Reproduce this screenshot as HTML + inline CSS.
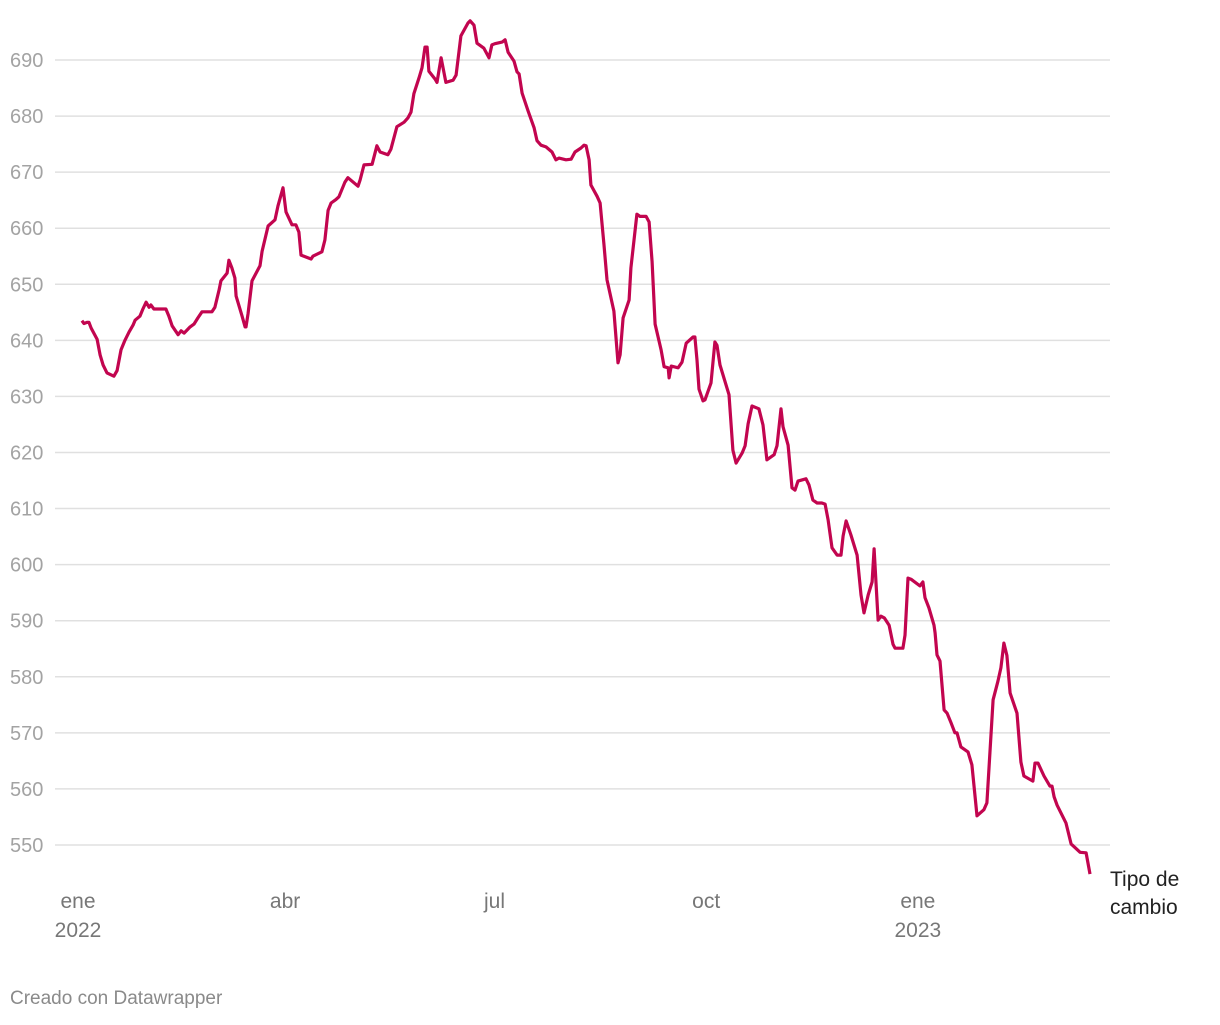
<!DOCTYPE html>
<html><head><meta charset="utf-8"><style>
body{margin:0;background:#fff;font-family:"Liberation Sans",sans-serif;}
svg text{font-family:"Liberation Sans",sans-serif;}
</style></head><body>
<svg width="1220" height="1020">
<g id="grid"></g>
<g id="yt"></g>
<g id="xt"></g>
<path id="line" fill="none" stroke="#c2054f" stroke-width="3.2" stroke-linejoin="round"/>
<text x="1110" y="886" font-size="21" fill="#222">Tipo de</text>
<text x="1110" y="914" font-size="21" fill="#222">cambio</text>
<text x="10" y="1004" font-size="19" fill="#8a8a8a">Creado con Datawrapper</text>
</svg>
<script>
const yTicks=[550,560,570,580,590,600,610,620,630,640,650,660,670,680,690];
const xTickDays=[0,90,181,273,365];
const xTickLabels=["ene","abr","jul","oct","ene"];
const xTickYears=["2022","","","","2023"];
const days=[1.7,2.6,3.9,4.8,5.7,8.3,9.6,10.9,12.6,15.6,17,18.7,20.4,22.2,23.9,24.8,26.9,28.2,29.6,30.9,31.7,33,38.2,39.5,40.9,43.5,44.8,46.1,48.7,50.4,52.1,53.9,58.2,59.5,61.3,62.1,64.8,65.6,66.9,68.2,68.7,71.3,72.6,73,73.9,75.6,77.4,79.1,80,82.6,85.6,86.9,89.1,90.4,93,94.7,96,96.9,101.3,102.1,106,107.3,108.7,110,112.1,113.4,116,117.3,121.7,122.6,124.3,127.8,129.9,131.3,134.7,136,138.6,141.7,143.4,144.7,146,148.2,149.5,150.8,151.7,152.5,155.2,156,157.8,159.9,163,164.3,166.4,169.5,170.4,172.1,173.4,176.4,178.6,179.9,181.2,184.3,185.6,186.9,189.5,190.8,191.7,193,195.6,198.2,199.5,201.2,203.4,206,207.7,209,212.1,214.3,216,218.6,219.9,220.8,222.1,222.9,225.6,226.9,228.6,229.9,232.9,234.7,235.6,236.9,239.5,240.3,242.9,244.3,246.9,248.2,249.5,250.8,253.4,254.7,256.5,256.9,257.8,260.8,262.5,264.3,267.3,268.1,269,269.9,271.6,272.5,275.1,276.8,277.7,279,282.9,284.6,286,288.6,289.9,291.2,292.9,295.9,297.7,299.4,302.5,303.8,305.5,306.4,308.6,310.3,311.6,312.9,316.4,317.7,319.4,321.2,323.3,324.7,326,327.7,329.9,331.6,332.5,333.8,335.9,338.6,340.3,341.6,343.4,345.1,346,347.7,349,350.4,352.5,354.2,355.1,358.5,359.4,360.7,362,365.9,367.2,368.1,369.8,372,372.5,373.3,374.6,376.4,377.7,379.4,381.1,382,383.7,386.8,388.5,390.7,393.7,395,397.7,399.8,401.1,402.4,403.7,405.1,408.1,409.8,411.1,415,415.9,417.2,419.8,422.4,423.3,424.2,425.5,429.4,431.6,435.5,438.1,439.8];
const values=[643.5,643,643.2,643.2,642.2,640.2,637.4,635.6,634.2,633.6,634.6,638.3,640,641.5,642.7,643.6,644.3,645.6,646.8,645.9,646.3,645.6,645.6,644.3,642.6,641,641.7,641.3,642.4,642.9,644,645.1,645.1,645.9,649,650.6,652,654.3,652.9,651.1,647.9,644.3,642.4,642.4,644.7,650.6,652,653.3,655.9,660.4,661.5,664,667.2,662.9,660.6,660.6,659.3,655.2,654.5,655,655.8,657.9,663.2,664.5,665.1,665.6,668.2,669,667.5,668.6,671.3,671.4,674.7,673.6,673.1,674.1,678.1,678.9,679.7,680.7,684,686.8,688.6,692.3,692.3,688,686.6,686,690.4,686,686.4,687.3,694.3,696.6,697,696.2,693,692.1,690.4,692.7,692.9,693.2,693.6,691.4,689.8,687.9,687.5,684.1,680.9,677.9,675.6,674.8,674.5,673.6,672.2,672.5,672.2,672.3,673.6,674.3,674.8,674.7,672.2,667.7,665.7,664.5,657,650.8,645.2,636,637.4,644,647.2,652.9,662.5,662.1,662.1,661.1,654,642.9,638.3,635.3,635.1,633.3,635.4,635.1,636.1,639.5,640.6,640.6,636.5,631.3,629.2,629.4,632.4,639.7,639.1,635.6,630.3,620.4,618.1,619.9,621.2,625.1,628.3,627.8,624.9,618.7,619.6,621.2,627.8,624.6,621.3,613.7,613.3,614.9,615.3,614.2,611.5,611,611,610.8,608,603,601.7,601.7,605.1,607.8,605.3,601.7,594.6,591.4,594.6,596.9,602.8,590.1,590.8,590.5,589.2,585.8,585.1,585.1,587.4,597.6,597.4,596.2,596.9,594.1,592.3,589.2,587.8,583.9,582.8,574.1,573.5,571.8,570,570,567.5,566.6,564.3,555.2,556.3,557.5,575.9,579.2,581.6,586,583.8,577.1,573.5,564.8,562.3,561.4,564.6,564.6,562.3,560.5,560.5,558.6,557.1,553.9,550.2,548.7,548.6,544.8];
const NS="http://www.w3.org/2000/svg";
const xS=d=>78+d*2.301;
const yS=v=>60+(690-v)*5.607;
const grid=document.getElementById('grid'),yt=document.getElementById('yt'),xt=document.getElementById('xt');
yTicks.forEach(t=>{
  const l=document.createElementNS(NS,'line');
  
  
  l.setAttribute('x1',55);l.setAttribute('x2',1110);l.setAttribute('y1',yS(t));l.setAttribute('y2',yS(t));
  l.setAttribute('stroke','#e0e0e0');l.setAttribute('stroke-width','1.5');
  grid.appendChild(l);
  const tx=document.createElementNS(NS,'text');
  
  
  tx.setAttribute('x',10);tx.setAttribute('y',yS(t)+7);tx.setAttribute('font-size','20');tx.setAttribute('fill','#a3a3a3');
  tx.textContent=t;yt.appendChild(tx);
});
xTickDays.forEach((d,i)=>{
  const tx=document.createElementNS(NS,'text');
  
  
  tx.setAttribute('x',xS(d));tx.setAttribute('y',908);tx.setAttribute('font-size','21');tx.setAttribute('fill','#777');tx.setAttribute('text-anchor','middle');
  tx.textContent=xTickLabels[i];xt.appendChild(tx);
  if(xTickYears[i]){
    const ty=document.createElementNS(NS,'text');
    
    
    ty.setAttribute('x',xS(d));ty.setAttribute('y',937);ty.setAttribute('font-size','21');ty.setAttribute('fill','#777');ty.setAttribute('text-anchor','middle');
    ty.textContent=xTickYears[i];xt.appendChild(ty);
  }
});
document.getElementById('line').setAttribute('d',days.map((d,i)=>(i?'L':'M')+xS(d).toFixed(1)+','+yS(values[i]).toFixed(1)).join(''));
</script>
</body></html>
